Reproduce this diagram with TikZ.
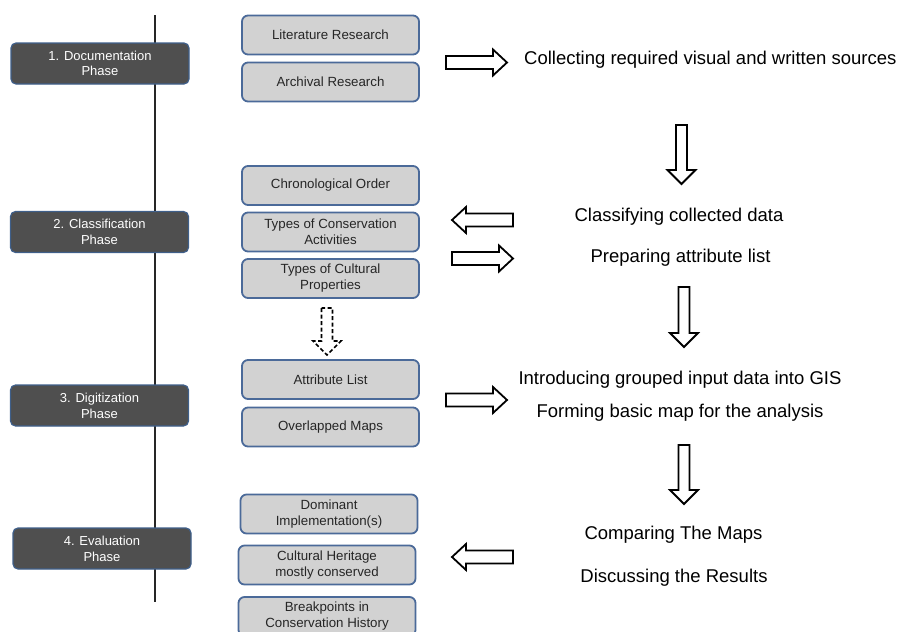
\documentclass[tikz,border=0pt]{standalone}
\usepackage{fontspec}
\setmainfont{Liberation Sans}
\definecolor{phasefill}{HTML}{4F4F4F}
\definecolor{phaseborder}{HTML}{3F5F8A}
\definecolor{gfill}{HTML}{D2D2D2}
\definecolor{gborder}{HTML}{4B6A99}
\newcommand{\myrarrow}[4][]{%
  \draw[barrow,#1] ({#2},{#4-6.5}) -- ({#3-14},{#4-6.5}) -- ({#3-14},{#4-13}) -- ({#3},{#4})
    -- ({#3-14},{#4+13}) -- ({#3-14},{#4+6.5}) -- ({#2},{#4+6.5}) -- cycle;}
\newcommand{\mylarrow}[4][]{%
  \draw[barrow,#1] ({#3},{#4-6.5}) -- ({#2+14},{#4-6.5}) -- ({#2+14},{#4-13}) -- ({#2},{#4})
    -- ({#2+14},{#4+13}) -- ({#2+14},{#4+6.5}) -- ({#3},{#4+6.5}) -- cycle;}
\newcommand{\mydarrow}[4][]{%
  \draw[barrow,#1] ({#2-5.5},{#3}) -- ({#2-5.5},{#4-14}) -- ({#2-14},{#4-14}) -- ({#2},{#4})
    -- ({#2+14},{#4-14}) -- ({#2+5.5},{#4-14}) -- ({#2+5.5},{#3}) -- cycle;}
\begin{document}
\begin{tikzpicture}[x=1pt,y=-1pt,
  phase/.style={draw=phaseborder, line width=1.2pt, fill=phasefill, rounded corners=5pt,
    minimum width=178pt, minimum height=41pt, text=white, align=center,
    font=\fontsize{13}{15.7}\selectfont, inner sep=0pt},
  gbox/.style={draw=gborder, line width=1.8pt, fill=gfill, rounded corners=6pt,
    minimum width=177pt, minimum height=39pt, text=black!85, align=center,
    font=\fontsize{13.3}{16}\selectfont, inner sep=0pt},
  rtext/.style={font=\fontsize{18.5}{21}\selectfont, text=black, inner sep=0pt},
  barrow/.style={draw=black, line width=1.8pt, fill=white, line join=miter},
]
\useasboundingbox (0,0) rectangle (900,632);
\clip (0,0) rectangle (900,632);

% timeline
\coordinate (ltop) at (155,15);
\coordinate (lbot) at (155,602);
\draw[line width=2.4pt, black!85] (ltop) -- (lbot);

% phases
\node[phase] (p1) at (100,63.5) {1. Documentation\\Phase};
\node[phase] (p2) at (99.5,232) {2. Classification\\Phase};
\node[phase] (p3) at (99.5,405.5) {3. Digitization\\Phase};
\node[phase] (p4) at (102,548.5) {4. Evaluation\\Phase};

% gray boxes
\node[gbox] (lit) at (330.5,35) {Literature Research};
\node[gbox] (arc) at (330.5,82) {Archival Research};
\node[gbox] (chr) at (330.5,185.5) {Chronological Order};
\node[gbox] (tca) at (330.5,232) {Types of Conservation\\Activities};
\node[gbox] (tcp) at (330.5,278.5) {Types of Cultural\\Properties};
\node[gbox] (att) at (330.5,379.5) {Attribute List};
\node[gbox] (ovl) at (330.5,427) {Overlapped Maps};
\node[gbox] (dom) at (329,514) {Dominant\\Implementation(s)};
\node[gbox] (chm) at (327,565) {Cultural Heritage\\mostly conserved};
\node[gbox] (brk) at (327,616.5) {Breakpoints in\\Conservation History};

% right texts
\node[rtext, anchor=west] (t1) at (524,60) {Collecting required visual and written sources};
\node[rtext] (t2) at (679,217) {Classifying collected data};
\node[rtext] (t3) at (680.5,258) {Preparing attribute list};
\node[rtext] (t4) at (680,380) {Introducing grouped input data into GIS};
\node[rtext] (t5) at (680,413) {Forming basic map for the analysis};
\node[rtext] (t6) at (673.5,535) {Comparing The Maps};
\node[rtext] (t7) at (674,578) {Discussing the Results};

% block arrows
\myrarrow{446}{507}{62.5}
\mylarrow{452}{513}{220}
\myrarrow{452}{513}{258.5}
\myrarrow{446}{507}{400}
\mylarrow{452}{513}{557}
\mydarrow{681.5}{125}{184}
\mydarrow{684}{287}{347}
\mydarrow{684}{445}{504}
\mydarrow[dashed, dash pattern=on 4pt off 2.5pt, line width=1.6pt]{327}{308}{355}
\end{tikzpicture}
\end{document}
